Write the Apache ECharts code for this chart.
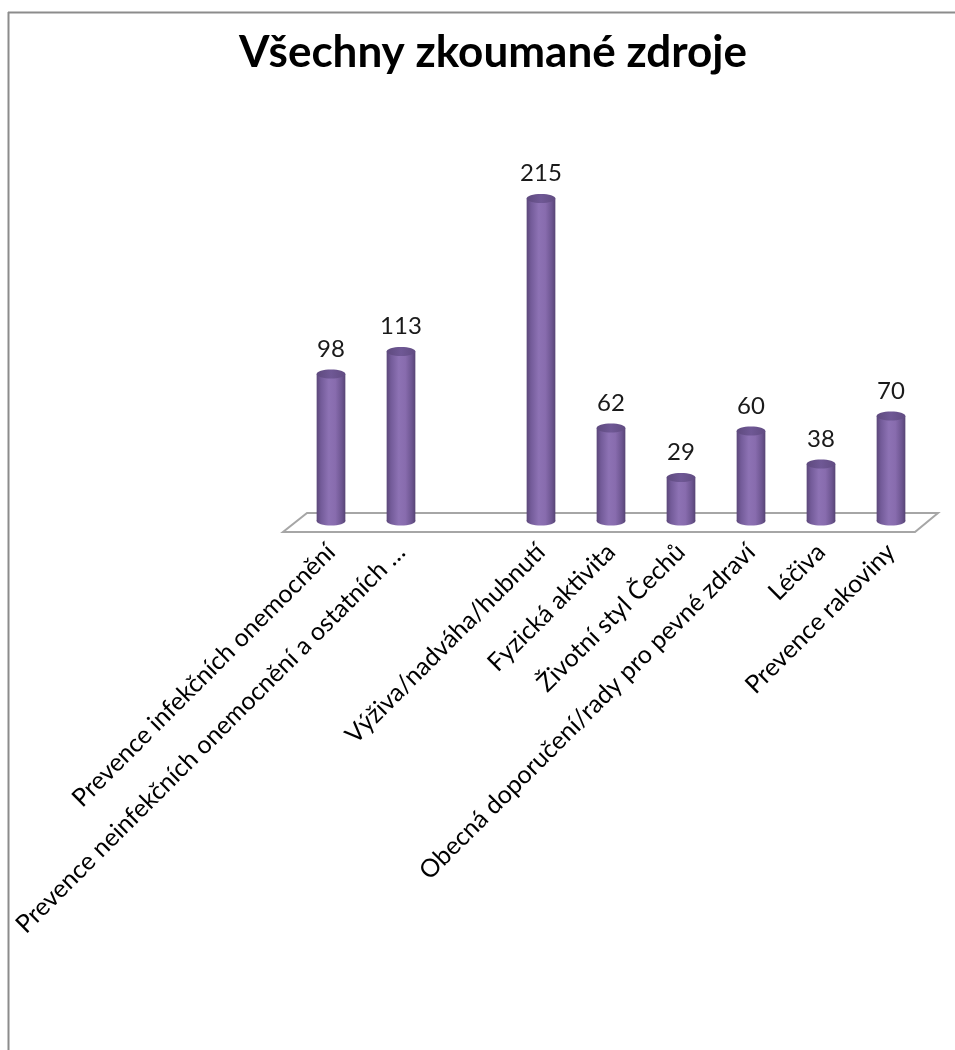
<!DOCTYPE html>
<html>
<head>
<meta charset="utf-8">
<script src="https://cdn.jsdelivr.net/npm/echarts@6/dist/echarts.min.js"></script>
<style>
html,body{margin:0;padding:0;background:#fff;}
#chart{width:955px;height:1050px;}
</style>
</head>
<body>
<div id="chart"></div>
<script>
const titleText = 'Všechny zkoumané zdroje';
const categories = [
  'Prevence infekčních onemocnění',
  'Prevence neinfekčních onemocnění a ostatních …',
  '',
  'Výživa/nadváha/hubnutí',
  'Fyzická aktivita',
  'Životní styl Čechů',
  'Obecná doporučení/rady pro pevné zdraví',
  'Léčiva',
  'Prevence rakoviny'
];
const values = [98, 113, null, 215, 62, 29, 60, 38, 70];

const chart = echarts.init(document.getElementById('chart'), null, {renderer: 'canvas'});

function renderItem(params, api) {
  const v = api.value(1);
  if (v == null || isNaN(v)) return null;
  const top = api.coord([api.value(0), v]);
  const base = api.coord([api.value(0), 0]);
  const w = api.size([1, 0])[0] * 0.41;
  const rx = w / 2, ry = 4.5;
  const grad = new echarts.graphic.LinearGradient(0, 0, 1, 0, [
    {offset: 0, color: '#5b4779'},
    {offset: 0.15, color: '#735b99'},
    {offset: 0.42, color: '#8d72b4'},
    {offset: 0.65, color: '#886cae'},
    {offset: 0.88, color: '#6c5590'},
    {offset: 1, color: '#574474'}
  ]);
  const topGrad = new echarts.graphic.LinearGradient(0, 0, 1, 0, [
    {offset: 0, color: '#5e4a7e'},
    {offset: 0.5, color: '#6f5895'},
    {offset: 1, color: '#614c82'}
  ]);
  return {
    type: 'group',
    children: [
      {type: 'ellipse', shape: {cx: base[0], cy: base[1], rx: rx, ry: ry}, style: {fill: grad}},
      {type: 'rect', shape: {x: base[0] - rx, y: top[1], width: w, height: base[1] - top[1]}, style: {fill: grad}},
      {type: 'ellipse', shape: {cx: top[0], cy: top[1], rx: rx, ry: ry}, style: {fill: topGrad}},
      {type: 'text', style: {text: String(v), x: top[0], y: top[1] - 25, align: 'center', verticalAlign: 'middle',
        font: '24px Lato', fill: '#1a1a1a'}}
    ]
  };
}

const option = {
  backgroundColor: '#ffffff',
  animation: false,
  title: {
    text: titleText,
    left: 488,
    top: 26,
    textAlign: 'center',
    textStyle: {fontFamily: 'Lato', fontWeight: 'bold', fontSize: 44, color: '#000'}
  },
  grid: {left: 296, right: 29, top: 191, bottom: 529, containLabel: false},
  xAxis: {
    type: 'category',
    data: categories,
    axisLine: {show: false},
    axisTick: {show: false},
    axisLabel: {
      interval: 0,
      rotate: 45,
      margin: 27,
      fontFamily: 'Lato',
      fontSize: 25,
      color: '#000'
    }
  },
  yAxis: {type: 'value', min: 0, max: 220, show: false, splitLine: {show: false}},
  graphic: [
    {type: 'polygon', shape: {points: [[307, 513], [938, 513], [915, 532], [283, 532]]},
      style: {fill: '#ffffff', stroke: '#a6a6a6', lineWidth: 2}, z: -1},
    {type: 'line', shape: {x1: 8, y1: 12.5, x2: 955, y2: 12.5}, style: {stroke: '#8c8c8c', lineWidth: 2}},
    {type: 'line', shape: {x1: 8.5, y1: 12, x2: 8.5, y2: 1050}, style: {stroke: '#8c8c8c', lineWidth: 2}}
  ],
  series: [{
    type: 'custom',
    renderItem: renderItem,
    encode: {x: 0, y: 1},
    data: values.map(function (v, i) { return [i, v]; }),
    z: 5
  }]
};
chart.setOption(option);
</script>
</body>
</html>
